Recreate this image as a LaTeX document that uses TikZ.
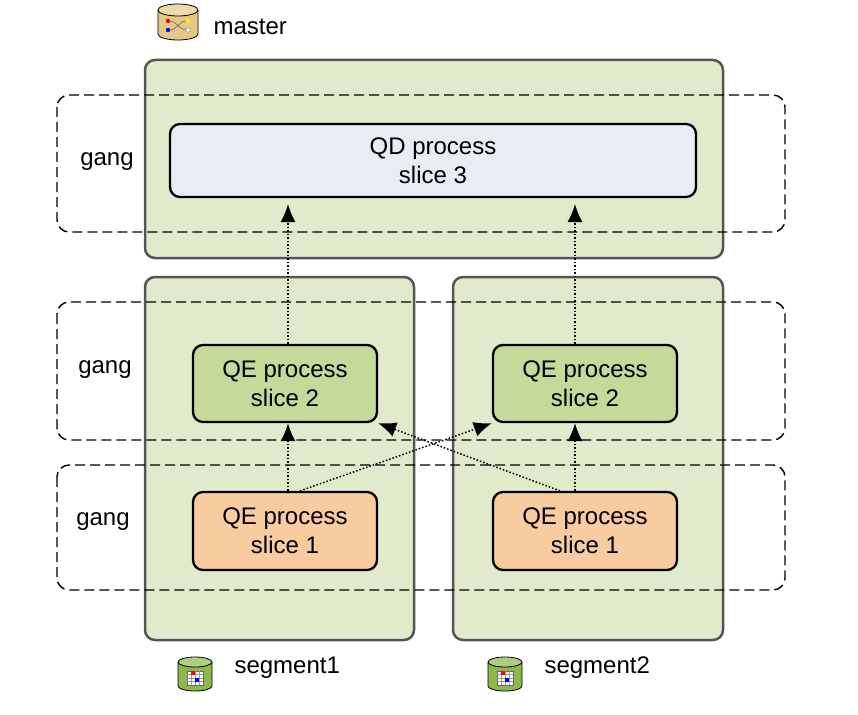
\documentclass[tikz,border=0pt]{standalone}
\usepackage{fontspec}
\setmainfont{Liberation Sans}
\usetikzlibrary{arrows.meta}
\definecolor{boxg}{HTML}{E2EACC}
\definecolor{qd}{HTML}{E9ECF5}
\definecolor{qe2}{HTML}{C5D99A}
\definecolor{qe1}{HTML}{F8CBA0}
\definecolor{edge}{HTML}{555555}
\definecolor{mtan}{HTML}{E6C886}
\definecolor{sgrn}{HTML}{8DB84A}
\begin{document}
\begin{tikzpicture}[x=1pt,y=-1pt,font=\fontsize{24}{29}\selectfont,
 host/.style={draw=edge,line width=2.5pt,fill=boxg,rounded corners=10pt},
 gang/.style={draw=black,line width=1.4pt,dash pattern=on 10pt off 5pt,rounded corners=12pt},
 proc/.style={draw=black,line width=2.3pt,rounded corners=10pt,align=center,inner sep=0pt},
 arr/.style={line width=1.5pt,dash pattern=on 1.5pt off 2pt,-{Latex[length=18pt,width=15pt]},shorten >=0pt},
 lbl/.style={anchor=west}]
\useasboundingbox (0,0) rectangle (858,714);
\draw[host] (145,60) rectangle (723,258);
\draw[host] (145,277) rectangle (414,640);
\draw[host] (453,277) rectangle (723,640);
\draw[gang] (57,95) rectangle (785,232);
\draw[gang] (57,302) rectangle (785,440);
\draw[gang] (57,465) rectangle (785,590);
\node (g1) at (107,162) {gang};
\node (g2) at (105,370) {gang};
\node (g3) at (103,522) {gang};
\node[proc,fill=qd,minimum width=526pt,minimum height=73pt] (qd) at (433,160.5) {QD process\\slice 3};
\node[proc,fill=qe2,minimum width=184pt,minimum height=77pt] (a2) at (285,383.5) {QE process\\slice 2};
\node[proc,fill=qe2,minimum width=184pt,minimum height=77pt] (b2) at (585,383.5) {QE process\\slice 2};
\node[proc,fill=qe1,minimum width=184pt,minimum height=78pt] (a1) at (285,531) {QE process\\slice 1};
\node[proc,fill=qe1,minimum width=184pt,minimum height=78pt] (b1) at (585,531) {QE process\\slice 1};
\coordinate (qdl) at (288,204);
\coordinate (qdr) at (575,204);
\draw[arr] (a1.north -| 288,0) -- (a2.south -| 288,0);
\draw[arr] (b1.north -| 575,0) -- (b2.south -| 575,0);
\draw[arr] (a2.north -| 288,0) -- (qdl);
\draw[arr] (b2.north -| 575,0) -- (qdr);
\draw[arr] (a1.north -| 300,0) -- (b2.south west);
\draw[arr] (b1.north -| 560,0) -- (a2.south east);
% master icon
\begin{scope}[shift={(178,22)}]
\draw[line width=0.8pt,fill=mtan] (-20,-12) -- (-20,12) arc[start angle=180,end angle=0,x radius=20,y radius=6] -- (20,-12);
\draw[line width=0.8pt,fill=mtan!70!white] (0,-12) ellipse[x radius=20,y radius=6];
\draw[line width=0.6pt,black!60] (-9,-1) .. controls (0,-1) and (0,8) .. (9,8);
\draw[line width=0.6pt,black!60] (-9,8) .. controls (0,8) and (0,-1) .. (9,-1);
\fill[red] (-10,-1) circle (2.2); \fill[blue] (-10,8) circle (2.2);
\fill[yellow] (10,-1) circle (2.2); \fill[white,draw=black!50] (10,8) circle (2.2);
\end{scope}
\node[lbl] (mt) at (210,27) {master};
% segment icons
\foreach \cx/\nm in {195/s1,505/s2}{
\begin{scope}[shift={(\cx,674)}]
\draw[line width=0.8pt,fill=sgrn] (-17,-12) -- (-17,12) arc[start angle=180,end angle=0,x radius=17,y radius=5] -- (17,-12);
\draw[line width=0.8pt,fill=sgrn!70!white] (0,-12) ellipse[x radius=17,y radius=5];
\draw[fill=white,draw=black!60] (-8,-3) rectangle (8,11);
\foreach \i in {-4,0,4}{\draw[black!40,line width=0.3pt] (\i,-3) -- (\i,11);}
\foreach \j in {0.5,4,7.5}{\draw[black!40,line width=0.3pt] (-8,\j) -- (8,\j);}
\fill[red] (-4,-3) rectangle (0,0.5); \fill[blue] (0,4) rectangle (4,7.5);
\end{scope}}
\node[lbl] (s1) at (231,668) {segment1};
\node[lbl] (s2) at (541,668) {segment2};
\end{tikzpicture}
\end{document}
